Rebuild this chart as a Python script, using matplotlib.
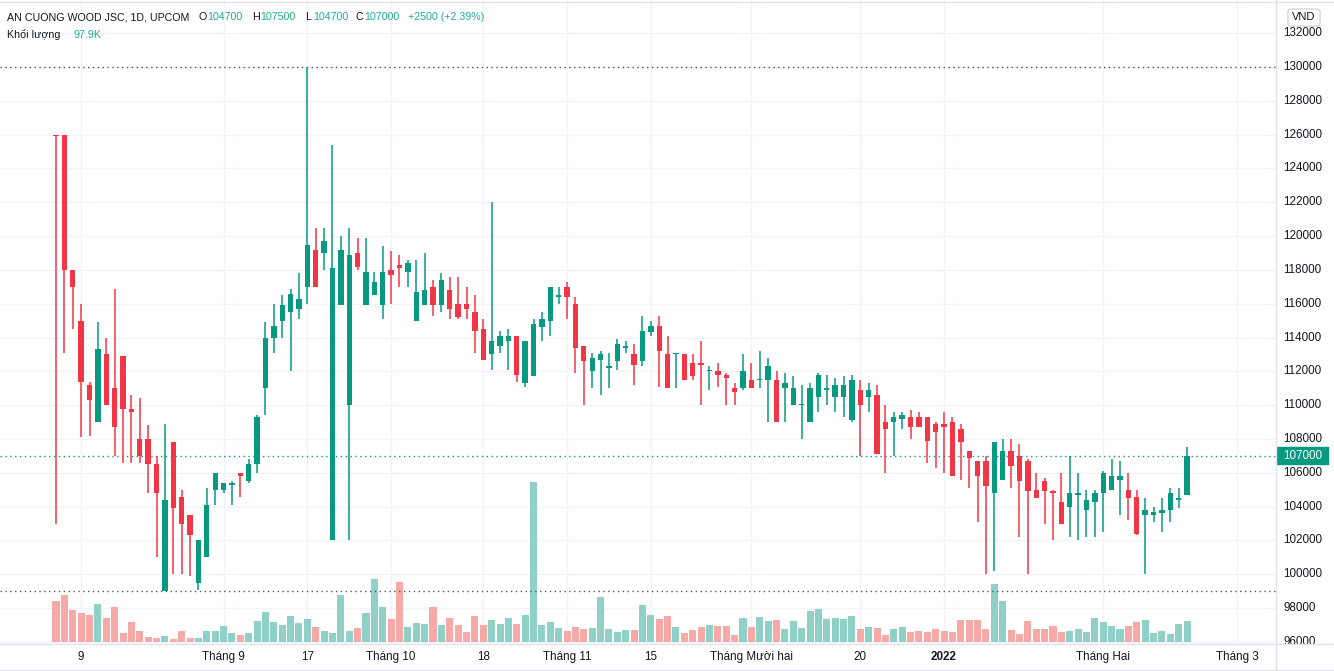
import matplotlib
matplotlib.use('Agg')
import matplotlib.pyplot as plt
from matplotlib.transforms import blended_transform_factory
from matplotlib.patches import FancyBboxPatch, Rectangle

# ---------------- data ----------------
opens = [126000, 126000, 118000, 115000, 111200, 109000, 113000, 111000, 112900, 109800,
         108000, 108000, 106500, 99000, 107800, 104600, 103500, 99500, 101000, 105000,
         105000, 105300, 106000, 105500, 106500, 111000, 114000, 115000, 115500, 115700,
         117000, 119200, 119000, 102000, 115900, 110000, 119000, 115900, 116500, 115900,
         118000, 118300, 117900, 115000, 115900, 117000, 115900, 116800, 116000, 116000,
         115500, 114500, 113000, 113500, 113800, 114100, 111300, 111700, 114600, 115000,
         116400, 117000, 116000, 113500, 112000, 112700, 112200, 112600, 113400, 113000,
         112600, 114300, 114700, 113000, 113000, 113000, 112500, 112500, 112000, 112000,
         111800, 111000, 111000, 111500, 111500, 111500, 111500, 111000, 110000, 110000,
         109000, 110500, 110900, 110500, 110500, 109100, 110900, 110500, 110600, 109000,
         109000, 109200, 109300, 109300, 109300, 108900, 108900, 109000, 108600, 107300,
         106700, 106700, 104800, 105600, 107300, 107000, 106700, 105000, 105500, 104900,
         104300, 104000, 104700, 103800, 104300, 104800, 105000, 105600, 105000, 104600,
         103500, 103500, 103600, 103800, 104400, 104700]
highs = [126000, 126000, 118000, 116000, 111400, 114900, 114000, 116900, 112900, 110600,
         110400, 108800, 107000, 108900, 107800, 105000, 103500, 102000, 105100, 106000,
         105400, 105500, 106000, 106800, 109400, 114900, 116000, 116500, 116900, 117800,
         130000, 120500, 120500, 125400, 120000, 120500, 119900, 119900, 117900, 119400,
         119100, 118900, 118600, 118600, 119000, 117400, 117800, 117600, 117600, 117000,
         116500, 115100, 122000, 114400, 114500, 114100, 113800, 115100, 115500, 117000,
         117000, 117300, 116400, 113500, 113100, 113200, 113100, 113900, 113800, 113600,
         115300, 115000, 115300, 114100, 113000, 113000, 113000, 113800, 112300, 112500,
         111900, 111300, 113000, 112500, 113200, 112800, 112000, 111900, 111700, 111200,
         111300, 111900, 111800, 111600, 111700, 111800, 111500, 111300, 111200, 110000,
         109600, 109600, 109700, 109600, 109300, 109000, 109600, 109300, 108900, 107300,
         106700, 107000, 107800, 108000, 108000, 107700, 106800, 106000, 105700, 105000,
         106000, 107000, 106000, 105000, 105000, 106100, 106800, 106700, 106000, 105000,
         104500, 104000, 104500, 105100, 105100, 107500]
lows = [103000, 113100, 114500, 108100, 108200, 109000, 110000, 107000, 106600, 106600,
        106600, 104800, 101000, 99000, 100000, 100000, 99900, 99100, 101000, 104100,
        104800, 104100, 104600, 105400, 106000, 109400, 113100, 114000, 112000, 115100,
        116000, 117000, 118000, 102000, 115900, 102000, 118000, 115900, 116500, 115100,
        116000, 117000, 117000, 115000, 115900, 115300, 115500, 115100, 115100, 115100,
        113100, 112700, 112100, 113100, 112100, 111400, 111100, 111700, 113800, 114100,
        116000, 115100, 111900, 110000, 111000, 110600, 111000, 112100, 113100, 111200,
        112300, 114100, 111100, 111000, 111000, 111500, 111500, 110000, 110900, 111100,
        110000, 110000, 110900, 111000, 111000, 109000, 109000, 109000, 110000, 108000,
        109000, 109600, 110000, 109600, 109300, 109000, 107000, 109600, 107100, 106000,
        107000, 108600, 108000, 108700, 106600, 106300, 106000, 105800, 105600, 105100,
        103100, 100000, 100200, 105600, 105100, 102200, 100000, 104500, 103000, 102000,
        103000, 102200, 102000, 102200, 102200, 102500, 105000, 103500, 103200, 102300,
        100000, 103100, 102500, 103100, 103900, 104700]
closes = [125900, 118000, 117000, 111400, 110300, 113300, 110000, 108700, 109800, 109600,
          107000, 106500, 104800, 104400, 103900, 103000, 102300, 102000, 104100, 106000,
          105400, 105400, 105800, 106500, 109300, 114000, 114700, 115900, 116600, 116300,
          119500, 117000, 119700, 118100, 119200, 118900, 118200, 117900, 117300, 117900,
          117700, 118100, 118400, 116700, 116800, 115900, 117400, 115700, 115200, 115700,
          114400, 112700, 113800, 114100, 114100, 111800, 113800, 114800, 115100, 117000,
          116500, 116400, 113400, 112600, 112800, 113000, 112300, 113600, 113500, 112400,
          114400, 114700, 113200, 111000, 113000, 111500, 111700, 112400, 112000, 111800,
          111600, 110800, 112000, 111000, 111500, 112300, 109000, 111300, 111000, 110000,
          111000, 111800, 111000, 111200, 111200, 111500, 110000, 110900, 107100, 108600,
          109300, 109400, 108700, 108700, 107900, 108400, 108700, 105800, 107800, 106900,
          105800, 105200, 107800, 107300, 106400, 105500, 104900, 104500, 104900, 104800,
          103000, 104800, 104800, 104400, 104800, 106000, 105800, 105800, 104500, 102400,
          103800, 103700, 103800, 104800, 104500, 107000]
volumes_k = [192, 220, 153, 135, 130, 178, 115, 164, 44, 96,
             53, 26, 21, 30, 16, 50, 21, 21, 50, 53,
             78, 44, 35, 44, 101, 144, 96, 82, 124, 92,
             110, 73, 53, 44, 224, 50, 68, 139, 300, 167,
             110, 286, 73, 92, 87, 164, 80, 115, 82, 49,
             124, 82, 105, 87, 115, 87, 129, 758, 82, 96,
             68, 53, 72, 63, 68, 214, 63, 49, 58, 58,
             176, 129, 110, 124, 72, 44, 58, 72, 82, 77,
             77, 35, 115, 72, 120, 101, 105, 63, 101, 68,
             148, 158, 110, 115, 110, 124, 63, 72, 68, 35,
             63, 72, 49, 53, 49, 63, 53, 49, 105, 105,
             105, 63, 276, 195, 58, 39, 98, 60, 60, 74,
             46, 51, 60, 46, 112, 93, 74, 60, 74, 93,
             103, 41, 51, 36, 84, 97.9]

tick_idx = [3, 20, 30, 40, 51, 61, 71, 83, 96, 106, 125, 141]
tick_labels = ['9', 'Tháng 9', '17', 'Tháng 10', '18', 'Tháng 11', '15',
               'Tháng Mười hai', '20', '2022', 'Tháng Hai', 'Tháng 3']
price_ticks = list(range(96000, 132001, 2000))
range_high = 130000
range_low = 99000
last_price = 107000

title = 'AN CUONG WOOD JSC, 1D, UPCOM'
ohlc_last = [('O', '104700'), ('H', '107500'), ('L', '104700'), ('C', '107000')]
change_text = '+2500 (+2.39%)'
vol_label = 'Khối lượng'
vol_value = '97.9K'

# ---------------- style / layout ----------------
W, H, DPI = 1334, 671, 100
UP = '#089981'
DOWN = '#f23645'
UP_VOL = '#8fd1c6'
DOWN_VOL = '#f7a9a7'
TEXT = '#131722'
TEAL_TXT = '#22ab94'
GRID = '#f0f3fa'
BORDER = '#e0e3eb'
FONT = 'Liberation Sans'
plt.rcParams['font.family'] = [FONT, 'DejaVu Sans']

PLOT_R = 1276      # px, right edge of plot area
PLOT_B = 644       # px, bottom edge of plot area
X0, DX = 56.0, 8.378          # px of first bar, px per bar
Y_REF, P_REF, PX_PER_K = 67.0, 130000.0, 16.91   # price scale
VOL_BASE, K_PER_PX = 642.0, 4.73


def price_at(ypx):
    return P_REF - (ypx - Y_REF) / PX_PER_K * 1000.0


def fx(x):
    return x / W


def fy(y):
    return 1 - y / H


fig = plt.figure(figsize=(W / DPI, H / DPI), dpi=DPI)
fig.patch.set_facecolor('white')

rect = [0, fy(PLOT_B), fx(PLOT_R), PLOT_B / H]
axv = fig.add_axes(rect)           # volume + grid (bottom)
ax = fig.add_axes(rect, sharex=axv)  # candles (top)
ax.patch.set_visible(False)
for a in (ax, axv):
    a.set_axis_off()

n = len(opens)
xs = list(range(n))
ax.set_xlim(-X0 / DX, (PLOT_R - X0) / DX)
ax.set_ylim(price_at(PLOT_B), price_at(0))
axv.set_ylim(-(PLOT_B - VOL_BASE) * K_PER_PX, VOL_BASE * K_PER_PX)

# grid lines (on the bottom axes)
bt = blended_transform_factory(axv.transAxes, ax.transData)
for p in price_ticks:
    axv.plot([0, 1], [p, p], transform=bt, color=GRID, lw=1.0, zorder=0)
for t in tick_idx:
    axv.axvline(t, color=GRID, lw=1.0, zorder=0)

# volume
up = [c >= o for o, c in zip(opens, closes)]
vcol = [UP_VOL if u else DOWN_VOL for u in up]
axv.bar(xs, volumes_k, width=0.84, color=vcol, zorder=1)

# candles
ccol = [UP if u else DOWN for u in up]
ax.vlines(xs, lows, highs, colors=ccol, lw=1.1, zorder=3)
bottoms = [min(o, c) for o, c in zip(opens, closes)]
heights = [max(abs(c - o), 70) for o, c in zip(opens, closes)]
ax.bar(xs, heights, bottom=bottoms, width=0.64, color=ccol, zorder=4)

# marker lines
ax.axhline(range_high, color='#50535e', lw=1.0, ls=(0, (1, 2.5)), zorder=2)
ax.axhline(range_low, color='#50535e', lw=1.0, ls=(0, (1, 2.5)), zorder=2)
ax.axhline(last_price, color=UP, lw=1.0, ls=(0, (1, 2.5)), zorder=2)

# time axis labels
tt = blended_transform_factory(ax.transData, fig.transFigure)
for t, lab in zip(tick_idx, tick_labels):
    ax.text(t, fy(657), lab, transform=tt, ha='center', va='center',
            fontsize=8.4, color=TEXT, clip_on=False,
            fontweight='bold' if lab == '2022' else 'normal')

# price scale
axp = fig.add_axes([fx(PLOT_R), fy(PLOT_B), 1 - fx(PLOT_R), PLOT_B / H])
axp.set_axis_off()
axp.set_xlim(0, 1)
axp.set_ylim(price_at(PLOT_B), price_at(0))
for p in price_ticks:
    axp.text(0.13, p, str(p), ha='left', va='center', fontsize=8.4,
             color=TEXT, clip_on=True)
# last price label
axp.add_patch(Rectangle((0.0, last_price - 8.5 / PX_PER_K * 1000), 0.9,
                        17 / PX_PER_K * 1000, color=UP, zorder=5))
axp.text(0.13, last_price, str(last_price), ha='left', va='center',
         fontsize=8.4, color='white', zorder=6)

# VND box
fig.patches.append(FancyBboxPatch((fx(1288), fy(26)), fx(32), 17 / H,
                                  boxstyle='round,pad=0,rounding_size=0.003',
                                  transform=fig.transFigure, facecolor='white',
                                  edgecolor='#c9ccd4', lw=0.8))
fig.text(fx(1304), fy(17.5), 'VND', ha='center', va='center', fontsize=8.0,
         color=TEXT)

# borders
fig.add_artist(plt.Line2D([fx(PLOT_R), fx(PLOT_R)], [0, 1], color=BORDER,
                          lw=1.0, transform=fig.transFigure))
fig.add_artist(plt.Line2D([0, 1], [fy(PLOT_B), fy(PLOT_B)], color=BORDER,
                          lw=1.0, transform=fig.transFigure))
fig.add_artist(plt.Line2D([0, 1], [fy(1.5), fy(1.5)], color=BORDER,
                          lw=1.0, transform=fig.transFigure))
fig.add_artist(plt.Line2D([0, 1], [fy(669.5), fy(669.5)], color=BORDER,
                          lw=1.0, transform=fig.transFigure))

# header
HFS = 7.7
fig.text(fx(7), fy(17), title, ha='left', va='center', fontsize=HFS, color=TEXT)
lx = [199, 252, 305, 356]
for (letter, val), x in zip(ohlc_last, lx):
    fig.text(fx(x), fy(17), letter, ha='left', va='center', fontsize=HFS,
             color=TEXT)
    fig.text(fx(x + 8.5), fy(17), val, ha='left', va='center', fontsize=HFS,
             color=TEAL_TXT)
fig.text(fx(408), fy(17), change_text, ha='left', va='center', fontsize=HFS,
         color=TEAL_TXT)
fig.text(fx(7), fy(35), vol_label, ha='left', va='center', fontsize=HFS,
         color=TEXT)
fig.text(fx(74), fy(35), vol_value, ha='left', va='center', fontsize=HFS,
         color=TEAL_TXT)

fig.savefig('out.png', dpi=DPI, facecolor='white')
